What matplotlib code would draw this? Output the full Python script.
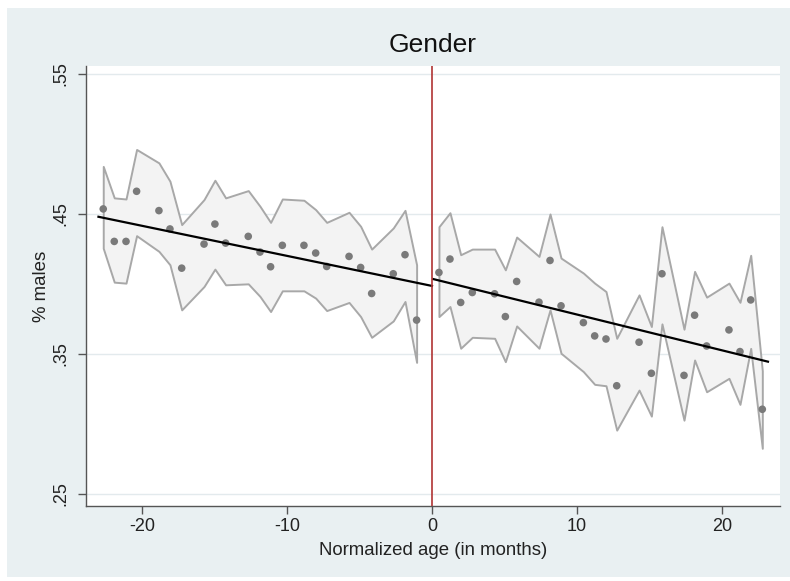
import matplotlib
matplotlib.use("Agg")
import matplotlib.pyplot as plt
from matplotlib.patches import Rectangle

plt.rcParams['font.family'] = ['Liberation Sans', 'DejaVu Sans']
plt.rcParams['axes.unicode_minus'] = False

# binned means left of the cutoff (months, share of males) with CI band
left_x = [-22.67, -21.91, -21.10, -20.37, -18.83, -18.07, -17.26, -15.72,
          -14.97, -14.23, -12.67, -11.86, -11.13, -10.32, -8.83, -8.02,
          -7.26, -5.72, -4.92, -4.16, -2.67, -1.86, -1.06]
left_y = [.4536, .4304, .4304, .4662, .4524, .4393, .4113, .4285,
          .4428, .4292, .4340, .4228, .4123, .4276, .4276, .4221,
          .4125, .4197, .4118, .3932, .4073, .4209, .3742]
left_hi = [.4840, .4615, .4607, .4961, .4865, .4734, .4424, .4603,
           .4741, .4615, .4667, .4555, .4440, .4607, .4598, .4531,
           .4440, .4512, .4412, .4249, .4400, .4526, .4137]
left_lo = [.4255, .4013, .4006, .4345, .4233, .4137, .3815, .3982,
           .4106, .3994, .4001, .3911, .3803, .3951, .3951, .3899,
           .3810, .3868, .3767, .3619, .3736, .3875, .3440]

# right of the cutoff
right_x = [0.48, 1.24, 1.98, 2.78, 4.32, 5.06, 5.84, 7.38, 8.14, 8.90,
           10.44, 11.22, 12.00, 12.74, 14.28, 15.13, 15.86, 17.38, 18.11,
           18.94, 20.48, 21.24, 21.98, 22.78]
right_y = [.4082, .4178, .3868, .3939, .3930, .3767, .4018, .3870, .4168,
           .3844, .3724, .3629, .3607, .3273, .3584, .3362, .4073, .3347,
           .3777, .3557, .3672, .3517, .3886, .3105]
right_hi = [.4409, .4509, .4209, .4249, .4249, .4101, .4335, .4197, .4500,
            .4185, .4078, .4006, .3946, .3612, .3922, .3696, .4409, .3677,
            .4090, .3906, .4006, .3869, .4205, .3380]
right_lo = [.3767, .3839, .3541, .3619, .3612, .3445, .3700, .3541, .3815,
            .3505, .3374, .3283, .3273, .2956, .3242, .3056, .3715, .3027,
            .3457, .3230, .3326, .3140, .3540, .2826]

# linear fits on each side
fit_left_x = [-23.0, 0.0]
fit_left_y = [.448, .3986]
fit_right_x = [0.09, 23.17]
fit_right_y = [.4035, .3445]

xticks = [-20, -10, 0, 10, 20]
yticks = [.25, .35, .45, .55]
ytick_labels = ['.25', '.35', '.45', '.55']

bg = '#e9f0f2'
axis_col = '#555555'

fig = plt.figure(figsize=(7.9, 5.81), dpi=100)
fig.patch.set_facecolor('white')
fig.patches.append(Rectangle((7 / 790, 4 / 581), 1, 1 - 12 / 581,
                             transform=fig.transFigure, facecolor=bg,
                             edgecolor='none', zorder=-10))

ax = fig.add_axes([85.7 / 790, 1 - 506 / 581, (780 - 85.7) / 790, (506 - 66) / 581])
ax.set_facecolor('white')

for xs, lo, hi in [(left_x, left_lo, left_hi), (right_x, right_lo, right_hi)]:
    ax.fill_between(xs, lo, hi, facecolor='#f3f3f3', edgecolor='#a8a8a8',
                    linewidth=1.4, zorder=2)

ax.scatter(left_x, left_y, s=30, color='#7a7a7a', edgecolors='none', zorder=3)
ax.scatter(right_x, right_y, s=30, color='#7a7a7a', edgecolors='none', zorder=3)
ax.plot(fit_left_x, fit_left_y, color='black', lw=1.6, zorder=4)
ax.plot(fit_right_x, fit_right_y, color='black', lw=1.6, zorder=4)
ax.axvline(0, color='#b03434', lw=1.2, zorder=5)

ax.set_xlim(-23.88, 24.0)
ax.set_ylim(.2414, .5557)
ax.set_xticks(xticks)
ax.set_yticks(yticks)
ax.set_yticklabels(ytick_labels)
ax.grid(axis='y', color='#e3eaed', lw=1)
ax.set_axisbelow(True)

for s in ['top', 'right']:
    ax.spines[s].set_visible(False)
for s in ['left', 'bottom']:
    ax.spines[s].set_color(axis_col)
    ax.spines[s].set_linewidth(1)

ax.tick_params(direction='out', length=5.8, width=1, color=axis_col,
               labelsize=13, labelcolor='#222222')
ax.tick_params(axis='x', pad=3)
ax.tick_params(axis='y', pad=6)
for lab in ax.get_yticklabels():
    lab.set_rotation(90)
    lab.set_va('center')

ax.set_xlabel('Normalized age (in months)', fontsize=13.4, color='#222222', labelpad=5)
ax.set_ylabel('% males', fontsize=13.4, color='#222222', labelpad=2)
ax.set_title('Gender', fontsize=19, color='#111111', pad=10)

fig.savefig('out.png', dpi=100)
